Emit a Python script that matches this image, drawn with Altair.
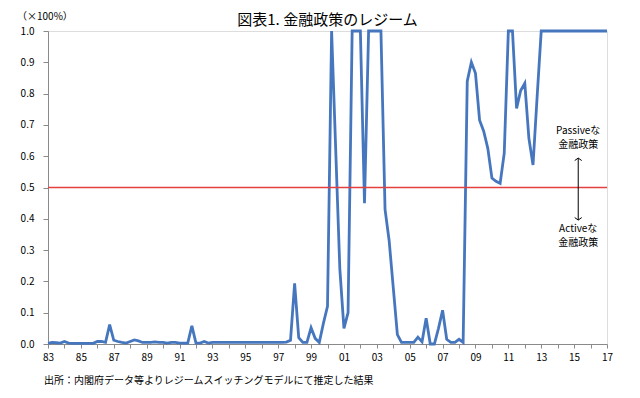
import altair as alt
import pandas as pd

# quarterly probabilities 1983Q1 .. 2017Q1
values = [
    0.002, 0.005, 0.004, 0.003,   # 1983
    0.008, 0.003, 0.002, 0.002,   # 1984
    0.002, 0.002, 0.002, 0.002,   # 1985
    0.008, 0.008, 0.005, 0.062,   # 1986
    0.012, 0.008, 0.005, 0.003,   # 1987
    0.008, 0.013, 0.010, 0.005,   # 1988
    0.005, 0.005, 0.007, 0.005,   # 1989
    0.005, 0.003, 0.005, 0.005,   # 1990
    0.003, 0.003, 0.003, 0.058,   # 1991
    0.003, 0.003, 0.008, 0.003,   # 1992
    0.005, 0.005, 0.005, 0.005,   # 1993
    0.005, 0.005, 0.005, 0.005,   # 1994
    0.005, 0.005, 0.005, 0.005,   # 1995
    0.005, 0.005, 0.005, 0.005,   # 1996
    0.005, 0.005, 0.006, 0.012,   # 1997
    0.194, 0.020, 0.005, 0.005,   # 1998
    0.052, 0.018, 0.005, 0.066,   # 1999
    0.120, 1.000, 0.620, 0.240,   # 2000
    0.050, 0.100, 1.000, 1.000,   # 2001
    1.000, 0.450, 1.000, 1.000,   # 2002
    1.000, 1.000, 0.430, 0.330,   # 2003
    0.180, 0.030, 0.005, 0.005,   # 2004
    0.005, 0.005, 0.022, 0.007,   # 2005
    0.082, 0.000, 0.000, 0.050,   # 2006
    0.108, 0.015, 0.005, 0.005,   # 2007
    0.015, 0.005, 0.840, 0.900,   # 2008
    0.865, 0.715, 0.680, 0.625,   # 2009
    0.530, 0.520, 0.513, 0.610,   # 2010
    1.000, 1.000, 0.753, 0.810,   # 2011
    0.833, 0.657, 0.572, 0.790,   # 2012
    1.000, 1.000, 1.000, 1.000,   # 2013
    1.000, 1.000, 1.000, 1.000,   # 2014
    1.000, 1.000, 1.000, 1.000,   # 2015
    1.000, 1.000, 1.000, 1.000,   # 2016
    1.000,                        # 2017
]
quarters = [1983 + i * 0.25 for i in range(len(values))]

year_ticks = list(range(1983, 2018))
y_ticks = [0.0, 0.1, 0.2, 0.3, 0.4, 0.5, 0.6, 0.7, 0.8, 0.9, 1.0]
threshold = [0.5]

title_text = ["図表1. 金融政策のレジーム"]
unit_text = ["（×100%）"]
footer_text = ["出所：内閣府データ等よりレジームスイッチングモデルにて推定した結果"]

ann_x = 2015.25
ann_labels = ["Passiveな", "金融政策", "Activeな", "金融政策"]
ann_y = [0.681, 0.636, 0.369, 0.324]
arrow_top = 0.594
arrow_bottom = 0.396

FONT = "Noto Sans CJK JP"
W, H = 559, 313

df = pd.DataFrame({"t": quarters, "p": values})
x_scale = alt.Scale(domain=[1983, 2017], nice=False, zero=False)
y_scale = alt.Scale(domain=[0, 1], nice=False)

x_axis = alt.Axis(
    values=year_ticks,
    labelExpr="(datum.value - 1983) % 2 == 0 ? substring(toString(datum.value), 2, 4) : ''",
    title=None, grid=False, tickSize=4, labelPadding=4,
    domainColor="#8a8a8a", tickColor="#8a8a8a",
    labelFont=FONT, labelFontSize=10, labelColor="#000000",
    labelOverlap=False, labelFlush=False,
)
y_axis = alt.Axis(
    values=y_ticks, format=".1f", title=None, grid=False, tickSize=5,
    labelPadding=9, domainColor="#8a8a8a", tickColor="#8a8a8a",
    labelFont=FONT, labelFontSize=10, labelColor="#000000",
    labelOverlap=False, labelFlush=False,
)


def xq(field):
    return alt.X(field, type="quantitative", scale=x_scale, axis=x_axis)


def yq(field):
    return alt.Y(field, type="quantitative", scale=y_scale, axis=y_axis)


line = alt.Chart(df).mark_line(color="#4677BE", strokeWidth=2.8).encode(
    x=xq("t"), y=yq("p"),
)

rule = alt.Chart(pd.DataFrame({"th": threshold})).mark_rule(strokeWidth=1.3).encode(
    y=yq("th"),
    stroke=alt.value("#E3413D"),
    strokeOpacity=alt.value(1),
)

ann_df = pd.DataFrame({"x": [ann_x] * len(ann_labels), "y": ann_y, "label": ann_labels})
ann = alt.Chart(ann_df).mark_text(
    font=FONT, fontSize=10, align="center", baseline="middle", color="#000000"
).encode(x=xq("x"), y=yq("y"), text="label:N")

arrow_df = pd.DataFrame({"x": [ann_x], "y": [arrow_top], "y2": [arrow_bottom]})
shaft = alt.Chart(arrow_df).mark_rule(stroke="#000000", color="#000000", strokeWidth=1).encode(
    x=xq("x"), y=yq("y"), y2="y2:Q",
)
head_up = alt.Chart(arrow_df).mark_point(
    shape="M -1 0.7 L 0 0 L 1 0.7", filled=False, strokeWidth=1, size=50, opacity=1,
    color="#000000",
).encode(x=xq("x"), y=yq("y"))
head_down = alt.Chart(arrow_df).mark_point(
    shape="M -1 -0.7 L 0 0 L 1 -0.7", filled=False, strokeWidth=1, size=50, opacity=1,
    color="#000000",
).encode(x=xq("x"), y=yq("y2"))

title = alt.Chart(pd.DataFrame({"s": title_text})).mark_text(
    font=FONT, fontSize=15, align="center", baseline="middle", color="#000000"
).encode(x=alt.value(W / 2), y=alt.value(-11), text="s:N")

unit = alt.Chart(pd.DataFrame({"s": unit_text})).mark_text(
    font=FONT, fontSize=10, align="left", baseline="middle", color="#000000"
).encode(x=alt.value(-31), y=alt.value(-14), text="s:N")

footer = alt.Chart(pd.DataFrame({"s": footer_text})).mark_text(
    font=FONT, fontSize=10, align="left", baseline="middle", color="#000000"
).encode(x=alt.value(-4), y=alt.value(350), text="s:N")

chart = alt.layer(line, rule, ann, shaft, head_up, head_down, title, unit, footer).properties(
    width=W, height=H,
    padding={"left": 40, "top": 23, "right": 25, "bottom": 46},
    autosize=alt.AutoSizeParams(type="none"),
).configure_view(stroke=None).configure(background="#ffffff")

chart.save("out.html", embed_options={"renderer": "svg", "actions": False})
